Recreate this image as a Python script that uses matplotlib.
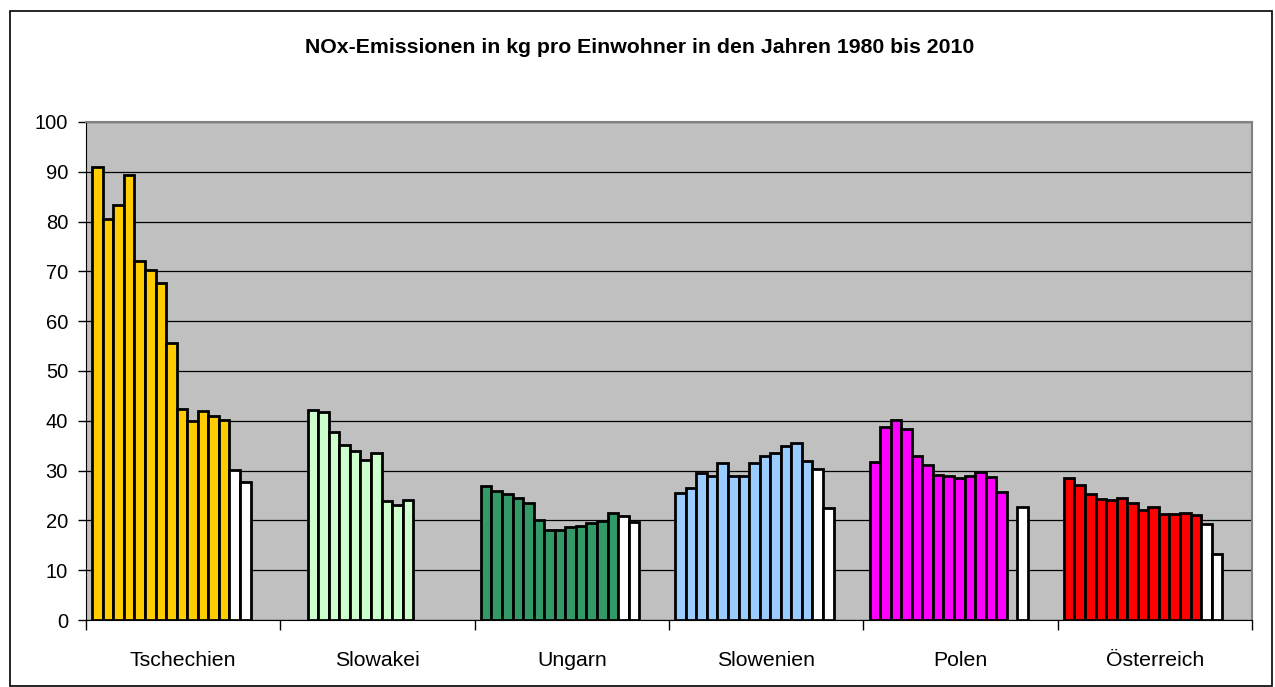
import matplotlib
matplotlib.use("Agg")
import matplotlib.pyplot as plt
import numpy as np
from matplotlib.patches import Rectangle

plt.rcParams['font.family'] = ['Liberation Sans', 'DejaVu Sans']

countries = ["Tschechien", "Slowakei", "Ungarn", "Slowenien", "Polen", "Österreich"]
colors = ["#FFCC00", "#CCFFCC", "#339966", "#99CCFF", "#FF00FF", "#FF0000"]

# 15 values per country, None = no bar; last two slots are the white bars
tschechien = [91.0, 80.6, 83.4, 89.4, 72.0, 70.3, 67.7, 55.7, 42.3, 39.9, 41.9, 41.0, 40.1, 30.1, 27.7]
slowakei = [None, None, 42.1, 41.8, 37.8, 35.1, 33.9, 32.1, 33.5, 23.9, 23.0, 24.1, None, None, None]
ungarn = [27.0, 25.9, 25.4, 24.4, 23.5, 20.0, 18.1, 18.1, 18.7, 18.9, 19.5, 19.8, 21.4, 20.8, 19.6]
slowenien = [25.5, 26.6, 29.5, 28.9, 31.5, 28.9, 28.9, 31.5, 33.0, 33.6, 34.9, 35.5, 32.0, 30.4, 22.5]
polen = [31.8, 38.7, 40.1, 38.3, 33.0, 31.1, 29.2, 28.9, 28.5, 28.9, 29.8, 28.7, 25.7, None, 22.7]
oesterreich = [28.5, 27.1, 25.3, 24.3, 24.1, 24.5, 23.5, 22.0, 22.7, 21.2, 21.2, 21.4, 21.1, 19.2, 13.3]

data = [tschechien, slowakei, ungarn, slowenien, polen, oesterreich]

fig = plt.figure(figsize=(12.75, 6.87), dpi=100)
ax = fig.add_axes([0.0675, 0.0975, 0.9145, 0.725])
ax.set_facecolor("#C0C0C0")

w = 0.0543
off = 0.032
for i, vals in enumerate(data):
    for s, v in enumerate(vals):
        if v is None:
            continue
        fc = "white" if s >= 13 else colors[i]
        ax.bar(i - 0.5 + off + s * w, v, width=w, align="edge", color=fc,
               edgecolor="black", linewidth=2.0, zorder=3)

ax.set_xlim(-0.5, 5.5)
ax.set_ylim(0, 100)
ax.set_yticks(np.arange(0, 101, 10))
ax.yaxis.grid(True, color="black", linewidth=0.9, zorder=1)
ax.set_axisbelow(True)

ax.set_xticks(np.arange(-0.5, 6, 1))
ax.set_xticklabels([])
ax.set_xticks(np.arange(6), minor=True)
ax.set_xticklabels(countries, minor=True)
ax.tick_params(axis="x", which="major", length=7, width=1, direction="out", color="black")
ax.tick_params(axis="x", which="minor", length=0, pad=22, labelsize=15.3)
ax.tick_params(axis="y", length=6, width=1, labelsize=14.5, pad=7)

for side in ["top", "right"]:
    ax.spines[side].set_color("#808080")
    ax.spines[side].set_linewidth(1.5)
ax.spines["left"].set_color("black")
ax.spines["bottom"].set_color("black")

fig.text(0.502, 0.931, "NOx-Emissionen in kg pro Einwohner in den Jahren 1980 bis 2010",
         ha="center", va="center", fontsize=15.3, fontweight="bold")

fig.patches.append(Rectangle((10 / 1275, 1 / 687), 1262 / 1275, 675 / 687,
                             transform=fig.transFigure, fill=False,
                             edgecolor="black", linewidth=1.2))

fig.savefig("out.png", dpi=100)
